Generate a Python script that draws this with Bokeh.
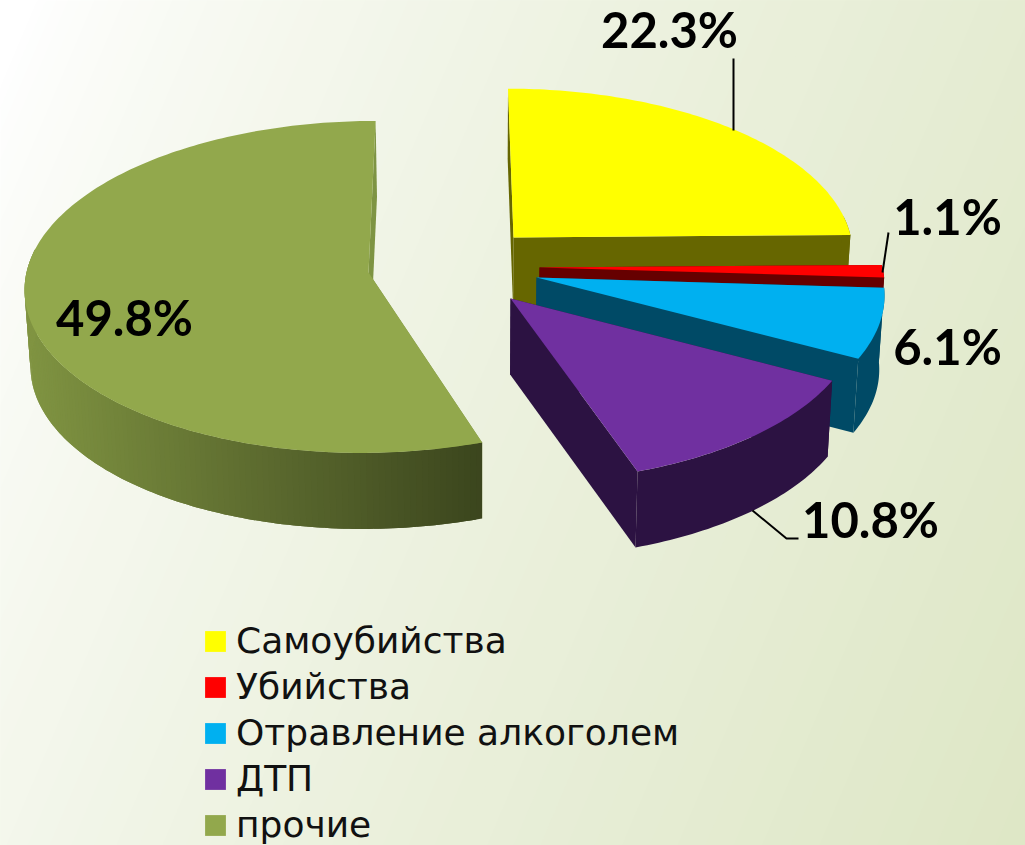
import numpy as np
from bokeh.plotting import figure
from bokeh.models import Legend, LegendItem, Range1d
from bokeh.core.properties import value
from bokeh.embed import file_html
from bokeh.resources import INLINE

# ---- data ----
categories = ["Самоубийства", "Убийства", "Отравление алкоголем", "ДТП", "прочие"]
percent = [22.3, 1.1, 6.1, 10.8, 49.8]
labels = ["22.3%", "1.1%", "6.1%", "10.8%", "49.8%"]

# ---- style ----
top_colors = ["#FFFF00", "#FF0000", "#00B0F0", "#7030A0", "#92A84C"]
side_colors = ["#666600", "#660000", "#004A66", "#2C1242", "#7E9443"]
wall_left, wall_right = np.array([0x80, 0x94, 0x42]), np.array([0x3C, 0x46, 0x1E])
# apex x, apex y, radius x, radius y, thickness (screen pixels of the tilted pie)
layout = [
    (513, 237, 337.5, 163, 70),
    (539, 267, 343, 165, 70),
    (536, 277, 346, 167, 74),
    (510, 298, 347, 169, 76),
    (368, 272, 342, 166, 76),
]
label_pos = [(669, 28), (947, 215), (947, 345), (870, 518), (124, 316)]
leaders = [([733, 733], [58, 130]), ([888, 882], [232, 272]), ([752, 786, 798], [510, 538, 538])]
P, VX = 0.087, 450
FB, VXB = 0.987, 480
FONT_B, FONT_L = "Lato", "DejaVu Sans"

W, H = 1025, 845
p = figure(width=W, height=H, x_range=Range1d(0, W), y_range=Range1d(H, 0),
           output_backend="svg", toolbar_location=None, min_border=0)
p.axis.visible = False
p.grid.visible = False
p.outline_line_color = None
p.background_fill_color = "#FFFFFF"
p.border_fill_color = "#FFFFFF"

# background gradient, drawn as stacked half planes so that no seams show
c0, c1 = np.array([255, 255, 255]), np.array([0xDE, 0xE7, 0xC6])
bx_, by_, bc_ = [], [], []
for n in range(1, 60):
    f = n / 60
    L = 0.03 + 1.32 * f ** (1 / 0.75)
    bx_.append([W * (L + 0.35 * 100 / H), W * (L - 0.35 * (H + 100) / H), W + 600, W + 600])
    by_.append([-100, H + 100, H + 100, -100])
    c = c0 + (c1 - c0) * f
    bc_.append("#%02X%02X%02X" % tuple(int(x) for x in c))
p.patches(bx_, by_, fill_color=bc_, line_color=None)


def project(cx, cy, rx, ry, ang):
    u, w = np.sin(ang), -np.cos(ang)
    k = 1 + P * w
    return cx + rx * u * k + (cx - VX) * (k - 1), cy + ry * w * k


def lower(x, y, d):
    return VXB + (np.asarray(x) - VXB) * FB, np.asarray(y) + d


fr = np.cumsum([0] + percent) / sum(percent) * 2 * np.pi
tops = {}
for i in [0, 1, 2, 4, 3]:
    cx, cy, rx, ry, d = layout[i]
    a = np.linspace(fr[i], fr[i + 1], max(3, int((fr[i + 1] - fr[i]) * 60)))
    ax, ay = project(cx, cy, rx, ry, a)
    bx, by = lower(ax, ay, d)
    ox, oy = lower(cx, cy, d)
    col = side_colors[i]
    # straight cut faces
    for j in (0, -1):
        p.patch([cx, ax[j], float(bx[j]), float(ox)], [cy, ay[j], float(by[j]), float(oy)],
                fill_color=col, line_color=None)
    # outer wall, front part only
    front = -np.cos(a) > -0.15
    fx, fy, gx, gy = ax[front], ay[front], bx[front], by[front]
    if len(fx) > 1:
        if i == 4:
            x0, x1 = 28, 482
            xs, ys, cols = [], [], []
            for j in range(len(fx) - 1):
                e = min(j + 3, len(fx))
                xs.append([*fx[j:e], *gx[j:e][::-1]])
                ys.append([*fy[j:e], *gy[j:e][::-1]])
                f = np.clip((fx[j] - x0) / (x1 - x0), 0, 1)
                c = wall_left + (wall_right - wall_left) * f
                cols.append("#%02X%02X%02X" % tuple(int(n) for n in c))
            p.patches(xs, ys, fill_color=cols, line_color=None)
        else:
            p.patch([*fx, *gx[::-1]], [*fy, *gy[::-1]], fill_color=col, line_color=None)
    # top surface
    tops[i] = p.patch([cx, *ax], [cy, *ay], fill_color=top_colors[i], line_color=None)

for lx, ly in leaders:
    p.line(lx, ly, line_color="#000000", line_width=2)

for (lx, ly), t_ in zip(label_pos, labels):
    p.text([lx], [ly], text=[t_], text_font=value(FONT_B), text_font_size="49px", text_font_style="bold",
           text_align="center", text_baseline="alphabetic", text_color="#000000")

legend = Legend(items=[LegendItem(label=c, renderers=[tops[i]]) for i, c in enumerate(categories)],
                location=(202, 0), orientation="vertical", background_fill_alpha=0, border_line_color=None,
                glyph_width=26, glyph_height=26, label_text_font=FONT_L, label_text_font_size="36px",
                label_text_color="#111111", spacing=5, padding=0, margin=0, label_standoff=8,
                label_height=40)
p.add_layout(legend, "center")

open("out.html", "w").write(file_html(p, INLINE))
